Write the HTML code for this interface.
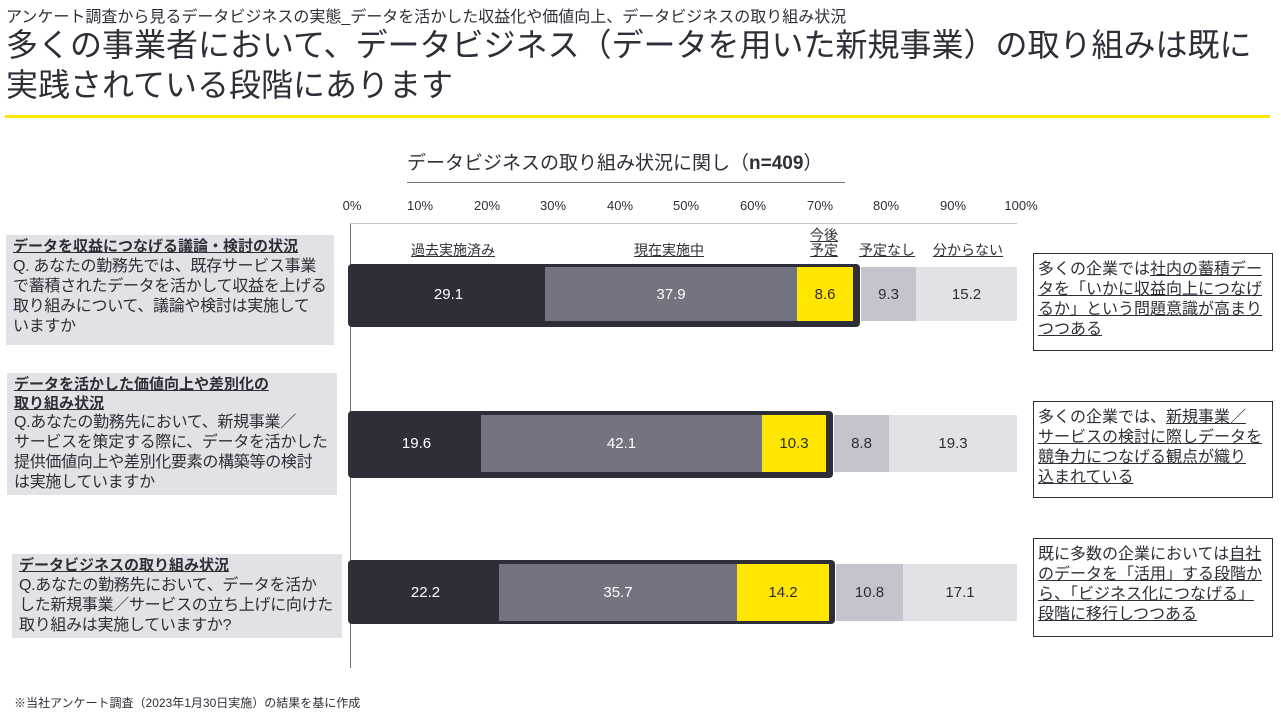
<!DOCTYPE html>
<html><head><meta charset="utf-8"><style>
*{margin:0;padding:0;box-sizing:border-box}
body{width:1281px;height:716px;background:#fff;position:relative;overflow:hidden;font-family:"Liberation Sans","Noto Sans CJK JP",sans-serif;color:#2e2e38}
.a{position:absolute}
.seg{position:absolute;display:flex;align-items:center;justify-content:center;font-size:15px}
.lb{position:absolute;background:#e1e1e6;padding:2px 7px;font-size:16px;line-height:20px;color:#2e2e38;white-space:nowrap;letter-spacing:-0.3px}
.lb b{display:block;text-decoration:underline;font-size:15px;letter-spacing:0}
.rb{position:absolute;border:1px solid #2e2e38;padding:6px 4px;font-size:16px;line-height:20px;left:1033px;width:240px;color:#2e2e38;white-space:nowrap}
.u{text-decoration:underline}
.tk{position:absolute;top:198px;font-size:13px;transform:translateX(-50%)}
.lg{position:absolute;font-size:14px;text-decoration:underline;transform:translateX(-50%);text-align:center;line-height:15px}
</style></head><body>
<div class="a" style="left:6px;top:3px;font-size:16px;">アンケート調査から見るデータビジネスの実態_データを活かした収益化や価値向上、データビジネスの取り組み状況</div>
<div class="a" style="left:6px;top:25px;font-size:32px;line-height:40px;width:1275px;">多くの事業者において、データビジネス（データを用いた新規事業）の取り組みは既に実践されている段階にあります</div>
<div class="a" style="left:5px;top:115px;width:1265px;height:3px;background:#ffe600"></div>
<div class="a" style="left:407px;top:148px;font-size:19px;">データビジネスの取り組み状況に関し（<b>n=409</b>）</div>
<div class="a" style="left:407px;top:182px;width:438px;height:1px;background:#747480"></div>
<div class="tk" style="left:352px">0%</div><div class="tk" style="left:420px">10%</div><div class="tk" style="left:487px">20%</div><div class="tk" style="left:553px">30%</div><div class="tk" style="left:620px">40%</div><div class="tk" style="left:686px">50%</div><div class="tk" style="left:753px">60%</div><div class="tk" style="left:820px">70%</div><div class="tk" style="left:886px">80%</div><div class="tk" style="left:953px">90%</div><div class="tk" style="left:1021px">100%</div>
<div class="a" style="left:350px;top:223px;width:1px;height:445px;background:#747480"></div>
<div class="a" style="left:350px;top:223px;width:667px;height:1px;background:#c4c4cd"></div>
<div class="lg" style="left:453px;top:243px">過去実施済み</div>
<div class="lg" style="left:669px;top:243px">現在実施中</div>
<div class="lg" style="left:824px;top:228px">今後<br>予定</div>
<div class="lg" style="left:887px;top:243px">予定なし</div>
<div class="lg" style="left:968px;top:243px">分からない</div>

<div class="a" style="left:348px;top:264px;width:512px;height:63px;background:#2e2e38;border-radius:4px"></div>
<div class="seg" style="left:352px;top:267px;width:193px;height:54px;color:#fff">29.1</div>
<div class="seg" style="left:545px;top:267px;width:252px;height:54px;background:#747480;color:#fff">37.9</div>
<div class="seg" style="left:797px;top:267px;width:56px;height:54px;background:#ffe600">8.6</div>
<div class="seg" style="left:861px;top:267px;width:55px;height:54px;background:#c4c4cd">9.3</div>
<div class="seg" style="left:916px;top:267px;width:101px;height:54px;background:#e1e1e6">15.2</div>

<div class="a" style="left:348px;top:411px;width:485px;height:67px;background:#2e2e38;border-radius:4px"></div>
<div class="seg" style="left:352px;top:415px;width:129px;height:57px;color:#fff">19.6</div>
<div class="seg" style="left:481px;top:415px;width:281px;height:57px;background:#747480;color:#fff">42.1</div>
<div class="seg" style="left:762px;top:415px;width:64px;height:57px;background:#ffe600">10.3</div>
<div class="seg" style="left:834px;top:415px;width:55px;height:57px;background:#c4c4cd">8.8</div>
<div class="seg" style="left:889px;top:415px;width:128px;height:57px;background:#e1e1e6">19.3</div>

<div class="a" style="left:348px;top:560px;width:487px;height:64px;background:#2e2e38;border-radius:4px"></div>
<div class="seg" style="left:352px;top:564px;width:147px;height:57px;color:#fff">22.2</div>
<div class="seg" style="left:499px;top:564px;width:238px;height:57px;background:#747480;color:#fff">35.7</div>
<div class="seg" style="left:737px;top:564px;width:92px;height:57px;background:#ffe600">14.2</div>
<div class="seg" style="left:836px;top:564px;width:67px;height:57px;background:#c4c4cd">10.8</div>
<div class="seg" style="left:903px;top:564px;width:114px;height:57px;background:#e1e1e6">17.1</div>

<div class="lb" style="left:6px;top:235px;width:328px;height:110px"><b>データを収益につなげる議論・検討の状況</b>Q. あなたの勤務先では、既存サービス事業<br>で蓄積されたデータを活かして収益を上げる<br>取り組みについて、議論や検討は実施して<br>いますか</div>
<div class="lb" style="left:7px;top:373px;width:330px;height:122px"><b style="line-height:19px">データを活かした価値向上や差別化の<br>取り組み状況</b>Q.あなたの勤務先において、新規事業／<br>サービスを策定する際に、データを活かした<br>提供価値向上や差別化要素の構築等の検討<br>は実施していますか</div>
<div class="lb" style="left:12px;top:554px;width:330px;height:84px"><b>データビジネスの取り組み状況</b>Q.あなたの勤務先において、データを活か<br>した新規事業／サービスの立ち上げに向けた<br>取り組みは実施していますか?</div>

<div class="rb" style="top:253px;height:98px">多くの企業では<span class="u">社内の蓄積デー<br>タを「いかに収益向上につなげ<br>るか」という問題意識が高まり<br>つつある</span></div>
<div class="rb" style="top:401px;height:97px">多くの企業では、<span class="u">新規事業／<br>サービスの検討に際しデータを<br>競争力につなげる観点が織り<br>込まれている</span></div>
<div class="rb" style="top:538px;height:99px">既に多数の企業においては<span class="u">自社<br>のデータを「活用」する段階か<br>ら、「ビジネス化につなげる」<br>段階に移行しつつある</span></div>
<div class="a" style="left:14px;top:694px;font-size:12px;">※当社アンケート調査（2023年1月30日実施）の結果を基に作成</div>
</body></html>
